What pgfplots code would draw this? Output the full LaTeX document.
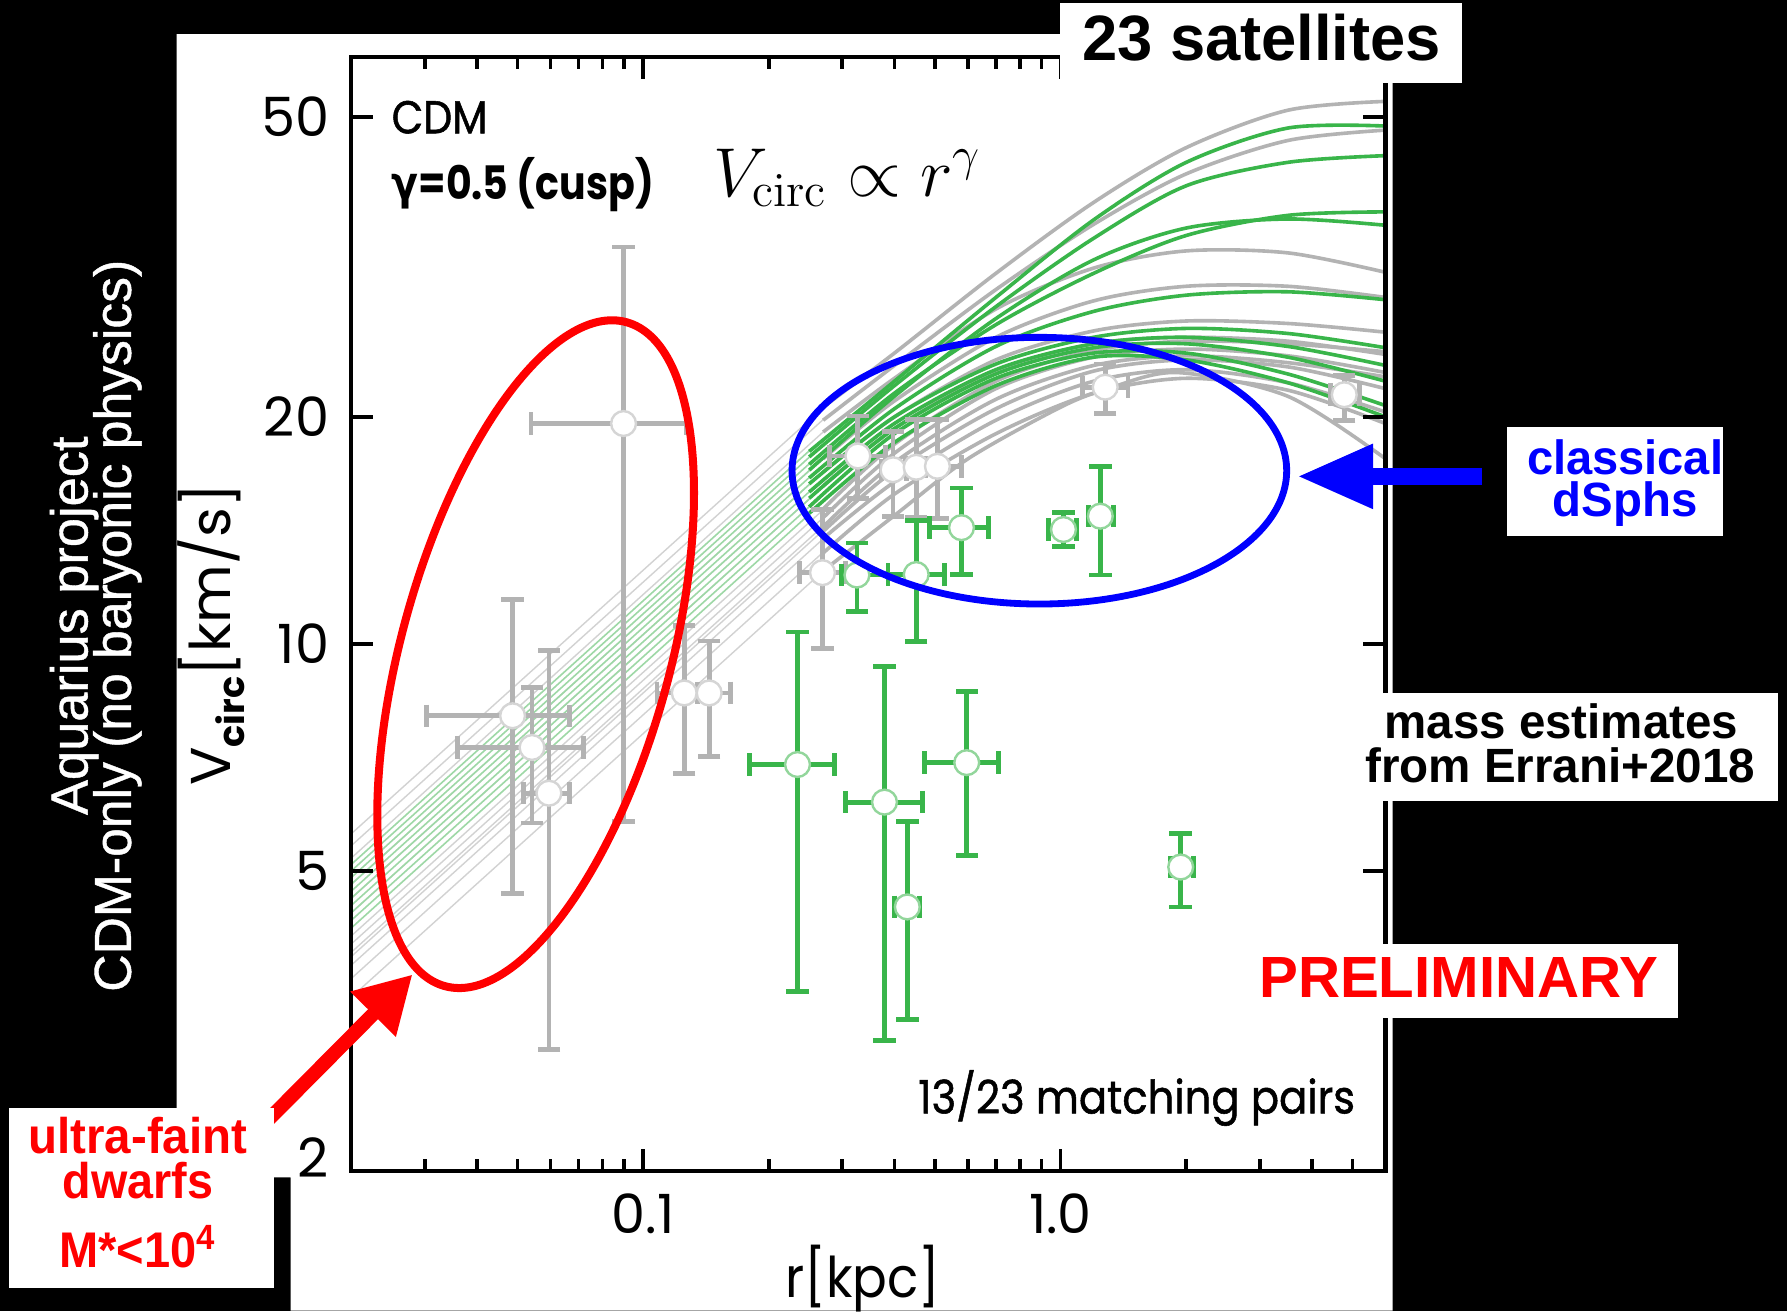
\documentclass[border=0pt]{standalone}
\usepackage[no-math]{fontspec}
\usepackage{graphicx}
\usepackage{pgfplots}
\usepackage{pgfplotstable}
\pgfplotsset{compat=1.18}
\usetikzlibrary{arrows.meta}
\setmainfont{Liberation Sans}
\newfontfamily\geo{Poppins}
\newfontfamily\geomed{Poppins}[FakeBold=1.2]
\newfontfamily\sidefont{Liberation Sans}[FakeBold=0.8]
\newfontfamily\dejavu{DejaVu Sans}
\definecolor{cgray}{HTML}{B3B3B3}
\definecolor{cgreen}{HTML}{39B54A}
\definecolor{thingray}{HTML}{D2D2D2}
\definecolor{thingreen}{HTML}{9ED8A6}
\pgfplotsset{
  thing/.style={thingray, line width=0.35pt},
  thinr/.style={thingreen, line width=0.4pt},
  thickg/.style={cgray, line width=0.9pt, smooth},
  thickr/.style={cgreen, line width=0.9pt, smooth},
}
% satellites: x, y, error plus/minus in x and y
\pgfplotstableread{
x y exp exm eyp eym
0.0898 19.6 0.0372 0.0359 14.0 13.79
0.0487 8.03 0.0181 0.0184 3.42 3.36
0.0542 7.29 0.0178 0.0182 1.47 1.50
0.0595 6.34 0.0073 0.0077 3.45 3.44
0.1255 8.61 0.0095 0.0175 1.96 1.88
0.144 8.61 0.018 0.0185 1.48 1.51
0.327 17.75 0.053 0.047 2.30 2.15
0.397 17.02 0.030 0.025 2.12 2.26
0.451 17.15 0.025 0.025 2.70 2.43
0.507 17.2 0.072 0.063 2.65 2.55
0.269 12.43 0.037 0.032 2.64 2.57
1.279 21.9 0.171 0.152 1.6 1.7
4.78 21.4 0.41 0.35 1.3 1.6
}\graytab
\pgfplotstableread{
x y exp exm eyp eym
0.2344 6.92 0.0536 0.0544 3.45 3.46
0.3787 6.17 0.0873 0.0727 3.16 3.19
0.4295 4.48 0.0305 0.0295 1.33 1.30
0.596 6.96 0.115 0.124 1.68 1.72
1.94 5.06 0.14 0.11 0.55 0.58
0.579 14.26 0.092 0.093 1.84 1.90
1.016 14.18 0.078 0.081 0.77 0.73
1.245 14.77 0.095 0.078 2.43 2.43
0.451 12.36 0.077 0.065 2.20 2.29
0.3253 12.34 0.061 0.027 1.27 1.29
}\greentab
\begin{document}
\begin{tikzpicture}
\begin{scope}[x=0.01cm,y=-0.01cm]
\useasboundingbox (0,0) rectangle (1568,1150);
\fill[black] (0,0) rectangle (1568,1150);
\fill[white] (155,30) -- (1222,30) -- (1222,1150) -- (255,1150) -- (255,1033) -- (155,1033) -- cycle;
\end{scope}
\begin{axis}[
  at={(3.08cm,-10.27cm)}, anchor=south west,
  scale only axis, width=9.07cm, height=9.77cm,
  xmode=log, ymode=log, xmin=0.02, xmax=6, ymin=2, ymax=60,
  axis on top,
  axis line style={line width=1.1pt},
  tick align=inside, tick pos=both,
  xticklabel pos=lower, yticklabel pos=left,
  xtick={0.1,1}, xticklabels={0.1,1.0},
  minor xtick={0.03,0.04,0.05,0.06,0.07,0.08,0.09,0.2,0.3,0.4,0.5,0.6,0.7,0.8,0.9,2,3,4,5},
  ytick={2,5,10,20,50}, yticklabels={\raisebox{7pt}{2},5,10,20,50},
  minor ytick={},
  major tick length=5.5pt, minor tick length=3pt,
  every tick/.style={black, line width=0.9pt},
  tick label style={font=\geo\fontsize{13.5}{14}\selectfont},
  xticklabel style={yshift=-2pt},
  yticklabel style={xshift=-2pt},
]
% ---- gray model curves: thin power-law part
\addplot[thing] coordinates {(0.02,5.6) (0.27,20.57)};
\addplot[thing] coordinates {(0.02,5.4) (0.27,19.84)};
\addplot[thing] coordinates {(0.02,5.2) (0.27,19.10)};
\addplot[thing] coordinates {(0.02,4.8) (0.27,17.64)};
\addplot[thing] coordinates {(0.02,4.6) (0.27,16.90)};
\addplot[thing] coordinates {(0.02,4.4) (0.27,16.17)};
\addplot[thing] coordinates {(0.02,4.1) (0.27,15.06)};
\addplot[thing] coordinates {(0.02,4.0) (0.27,14.70)};
\addplot[thing] coordinates {(0.02,3.9) (0.27,14.33)};
\addplot[thing] coordinates {(0.02,3.85) (0.27,14.14)};
\addplot[thing] coordinates {(0.02,3.75) (0.27,13.78)};
\addplot[thing] coordinates {(0.02,3.6) (0.27,13.23)};
\addplot[thing] coordinates {(0.02,3.4) (0.27,12.49)};
% ---- green model curves: thin part
\addplot[thinr] coordinates {(0.02,5.1) (0.25,18.03)};
\addplot[thinr] coordinates {(0.02,5.0) (0.25,17.68)};
\addplot[thinr] coordinates {(0.02,4.9) (0.25,17.33)};
\addplot[thinr] coordinates {(0.02,4.8) (0.25,16.97)};
\addplot[thinr] coordinates {(0.02,4.7) (0.25,16.62)};
\addplot[thinr] coordinates {(0.02,4.6) (0.25,16.27)};
\addplot[thinr] coordinates {(0.02,4.5) (0.25,15.91)};
\addplot[thinr] coordinates {(0.02,4.4) (0.25,15.56)};
\addplot[thinr] coordinates {(0.02,4.3) (0.25,15.20)};
\addplot[thinr] coordinates {(0.02,4.2) (0.25,14.85)};
% ---- gray thick
\addplot[thickg] coordinates {(0.27,20.6)(0.4,24.3)(0.7,31)(1.2,38.5)(2,45.5)(3.5,51)(6,52.4)};
\addplot[thickg] coordinates {(0.27,19.8)(0.4,23.4)(0.7,29.5)(1.2,36)(2,42)(3.5,46.5)(6,48.0)};
\addplot[thickg] coordinates {(0.27,19.1)(0.4,22.5)(0.7,27.8)(1.2,31.5)(2,33.2)(3.5,33)(6,31.1)};
\addplot[thickg] coordinates {(0.27,17.6)(0.4,21)(0.7,25.5)(1.2,28.5)(2,29.8)(3.5,29.8)(6,28.8)};
\addplot[thickg] coordinates {(0.27,16.9)(0.4,20)(0.7,23.8)(1.2,26)(2,26.8)(3.5,26.6)(6,25.9)};
\addplot[thickg] coordinates {(0.27,16.2)(0.4,19.3)(0.7,23)(1.2,25)(2,25.5)(3.5,25.2)(6,24.2)};
\addplot[thickg] coordinates {(0.27,15.1)(0.4,18.4)(0.7,22.3)(1.2,24.5)(2,25.2)(3.5,25)(6,24.4)};
\addplot[thickg] coordinates {(0.27,14.7)(0.4,17.9)(0.7,21.8)(1.2,24)(2,24.6)(3.5,24.1)(6,22.9)};
\addplot[thickg] coordinates {(0.27,14.3)(0.4,17.4)(0.7,21.1)(1.2,23.4)(2,24.1)(3.5,23.6)(6,22.6)};
\addplot[thickg] coordinates {(0.27,14.1)(0.4,17)(0.7,20.5)(1.2,23)(2,23.8)(3.5,23.3)(6,21.8)};
\addplot[thickg] coordinates {(0.27,13.8)(0.4,16.4)(0.7,19.8)(1.2,22.3)(2,23.1)(3.5,22.2)(6,20.3)};
\addplot[thickg] coordinates {(0.27,13.2)(0.4,15.8)(0.7,19.0)(1.2,21.5)(2,22.5)(3.5,21.7)(6,19.6)};
\addplot[thickg] coordinates {(0.27,12.5)(0.4,14.8)(0.6,17.6)(1.0,20.6)(1.3,21.8)(1.9,22.9)(3.5,21.3)(6,17.6)};
% ---- green thick
\addplot[thickr] coordinates {(0.25,18.0)(0.4,22.3)(0.7,28.8)(1.2,36.5)(2,43.5)(3.5,48.3)(6,48.6)};
\addplot[thickr] coordinates {(0.25,17.7)(0.4,22)(0.7,28)(1.2,34.5)(2,40.5)(3.5,43.5)(6,44.4)};
\addplot[thickr] coordinates {(0.25,17.3)(0.4,21.5)(0.7,26.5)(1.2,31)(2,34.8)(3.5,37)(6,37.4)};
\addplot[thickr] coordinates {(0.25,17.0)(0.4,21.3)(0.7,27)(1.2,32.3)(2,35.6)(3.5,36.6)(6,35.9)};
\addplot[thickr] coordinates {(0.25,16.6)(0.4,20.5)(0.7,24.8)(1.2,27.6)(2,29)(3.5,29.3)(6,28.6)};
\addplot[thickr] coordinates {(0.25,16.3)(0.4,20)(0.7,23.5)(1.2,25.5)(2,26.2)(3.5,25.8)(6,24.7)};
\addplot[thickr] coordinates {(0.25,15.9)(0.4,19.6)(0.7,23.1)(1.2,25)(2,25.5)(3.5,24.8)(6,23.4)};
\addplot[thickr] coordinates {(0.25,15.6)(0.4,19.3)(0.7,22.8)(1.2,24.7)(2,25)(3.5,24)(6,22.3)};
\addplot[thickr] coordinates {(0.25,15.2)(0.4,19)(0.7,22.5)(1.2,24.3)(2,24.3)(3.5,22.8)(6,20.7)};
\addplot[thickr] coordinates {(0.25,14.9)(0.4,18.5)(0.7,22)(1.2,24)(2,23.8)(3.5,22.2)(6,20.0)};
% ---- error bars
\addplot[cgray, only marks, mark=none,
  error bars/.cd, x dir=both, x explicit, y dir=both, y explicit, error mark=none,
  error bar style={cgray, line width=1.2pt}]
  table[x=x, y=y, x error plus=exp, x error minus=exm, y error plus=eyp, y error minus=eym] {\graytab};
\addplot[cgreen, only marks, mark=none,
  error bars/.cd, x dir=both, x explicit, y dir=both, y explicit, error mark=none,
  error bar style={cgreen, line width=1.2pt}]
  table[x=x, y=y, x error plus=exp, x error minus=exm, y error plus=eyp, y error minus=eym] {\greentab};
% ---- caps
\addplot[cgray, only marks, mark=-, mark size=2.8pt, mark options={line width=1.2pt}] table[x=x, y expr=\thisrow{y}+\thisrow{eyp}] {\graytab};
\addplot[cgray, only marks, mark=-, mark size=2.8pt, mark options={line width=1.2pt}] table[x=x, y expr=\thisrow{y}-\thisrow{eym}] {\graytab};
\addplot[cgray, only marks, mark=|, mark size=2.8pt, mark options={line width=1.2pt}] table[x expr=\thisrow{x}+\thisrow{exp}, y=y] {\graytab};
\addplot[cgray, only marks, mark=|, mark size=2.8pt, mark options={line width=1.2pt}] table[x expr=\thisrow{x}-\thisrow{exm}, y=y] {\graytab};
\addplot[cgreen, only marks, mark=-, mark size=2.8pt, mark options={line width=1.2pt}] table[x=x, y expr=\thisrow{y}+\thisrow{eyp}] {\greentab};
\addplot[cgreen, only marks, mark=-, mark size=2.8pt, mark options={line width=1.2pt}] table[x=x, y expr=\thisrow{y}-\thisrow{eym}] {\greentab};
\addplot[cgreen, only marks, mark=|, mark size=2.8pt, mark options={line width=1.2pt}] table[x expr=\thisrow{x}+\thisrow{exp}, y=y] {\greentab};
\addplot[cgreen, only marks, mark=|, mark size=2.8pt, mark options={line width=1.2pt}] table[x expr=\thisrow{x}-\thisrow{exm}, y=y] {\greentab};
% ---- circles
\addplot[only marks, mark=*, mark size=3.1pt, mark options={fill=white, draw=cgray!55, line width=0.6pt}] table[x=x, y=y] {\graytab};
\addplot[only marks, mark=*, mark size=3.1pt, mark options={fill=white, draw=cgreen!55, line width=0.6pt}] table[x=x, y=y] {\greentab};
\end{axis}
\begin{scope}[x=0.01cm,y=-0.01cm]
% in-plot texts
\node[anchor=base west, inner sep=0] at (343,117) {\resizebox{0.84cm}{\height}{\geomed\fontsize{11.5}{12}\selectfont CDM}};
\node[anchor=base west, inner sep=0] at (343,175) {\resizebox{2.30cm}{\height}{\geo\bfseries\fontsize{11.5}{12}\selectfont{\dejavu\bfseries γ}=0.5 (cusp)}};
\node[anchor=base west, inner sep=0] at (625,172) {\fontsize{17}{17}\selectfont$V_{\mathrm{circ}}\propto r^\gamma$};
\node[anchor=base west, inner sep=0] at (805,977) {\resizebox{3.83cm}{\height}{\geomed\fontsize{11.5}{12}\selectfont 13/23 matching pairs}};
% axis labels
\node[rotate=90, inner sep=0] at (185,557) {\resizebox{2.65cm}{\height}{\geo\fontsize{14}{14}\selectfont V\raisebox{-0.45ex}{\fontsize{9}{9}\selectfont\bfseries circ}[km/s]}};
\node[inner sep=0] at (757,1122) {\resizebox{1.36cm}{\height}{\geo\fontsize{14}{14}\selectfont r[kpc]}};
% ellipses and arrows
\draw[red, line width=2pt, rotate around={74.7:(470,574)}] (470,574) ellipse [x radius=302, y radius=118];
\draw[blue, line width=1.7pt] (912,413) ellipse [x radius=217, y radius=117];
\draw[red, line width=3.5pt, -{Triangle[length=14pt, width=15pt]}] (228,990) -- (362,855);
\draw[blue, line width=4.3pt, -{Triangle[length=19pt, width=15pt]}] (1300,418) -- (1138,418);
% left side texts
\node[rotate=90, white, inner sep=0] at (65,549) {\resizebox{3.32cm}{\height}{\sidefont\fontsize{13}{13}\selectfont Aquarius project}};
\node[rotate=90, white, inner sep=0] at (103,549) {\resizebox{6.42cm}{\height}{\sidefont\fontsize{13}{13}\selectfont CDM-only (no baryonic physics)}};
% boxes
\fill[white] (930,3) rectangle (1283,73);
\node[anchor=base, inner sep=0] at (1107,53) {\resizebox{3.15cm}{\height}{\fontsize{16}{16}\selectfont\bfseries 23 satellites}};
\fill[white] (1322,375) rectangle (1512,470);
\node[anchor=base, inner sep=0, blue] at (1426,416) {\resizebox{1.72cm}{\height}{\fontsize{12}{12}\selectfont\bfseries classical}};
\node[anchor=base, inner sep=0, blue] at (1426,453) {\resizebox{1.27cm}{\height}{\fontsize{12}{12}\selectfont\bfseries dSphs}};
\fill[white] (1190,608) rectangle (1560,703);
\node[anchor=base, inner sep=0] at (1370,648) {\resizebox{3.10cm}{\height}{\fontsize{12}{12}\selectfont\bfseries mass estimates}};
\node[anchor=base, inner sep=0] at (1369,687) {\resizebox{3.42cm}{\height}{\fontsize{12}{12}\selectfont\bfseries from Errani+2018}};
\fill[white] (1092,828) rectangle (1472,893);
\node[anchor=base, inner sep=0, red] at (1280,875) {\resizebox{3.50cm}{\height}{\fontsize{14.5}{15}\selectfont\bfseries PRELIMINARY}};
\fill[white] (8,972) rectangle (240,1130);
\node[anchor=base, inner sep=0, red] at (121,1012) {\resizebox{1.92cm}{\height}{\fontsize{12.5}{13}\selectfont\bfseries ultra-faint}};
\node[anchor=base, inner sep=0, red] at (121,1052) {\resizebox{1.32cm}{\height}{\fontsize{12.5}{13}\selectfont\bfseries dwarfs}};
\node[anchor=base, inner sep=0, red] at (121,1112) {\resizebox{1.38cm}{\height}{\fontsize{12.5}{13}\selectfont\bfseries M*<10\textsuperscript{4}}};
\end{scope}
\end{tikzpicture}
\end{document}
